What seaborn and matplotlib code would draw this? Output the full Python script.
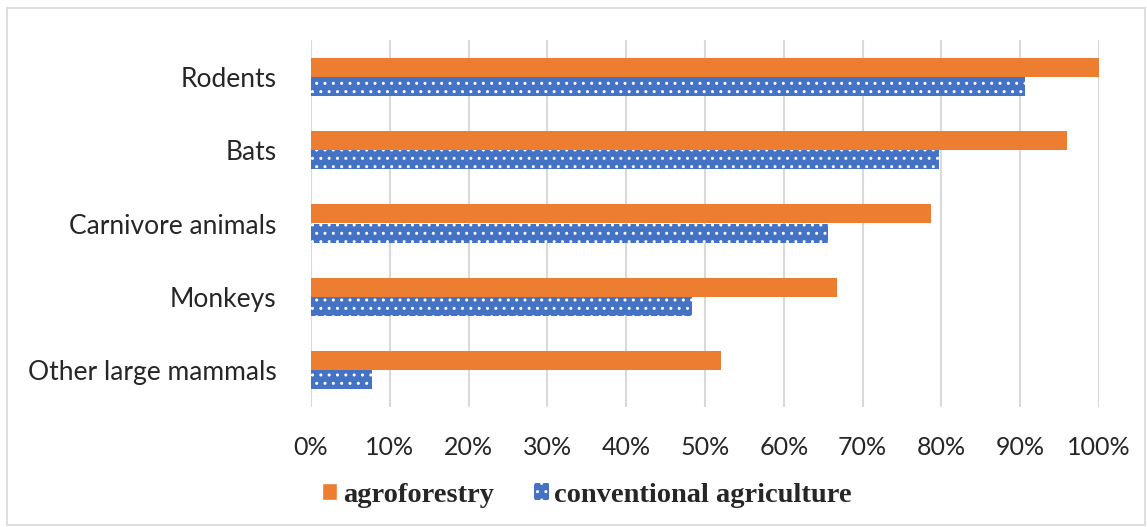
import pandas as pd
import matplotlib
matplotlib.use("Agg")
import matplotlib.pyplot as plt
import seaborn as sns
from matplotlib.patches import Patch, Rectangle
from matplotlib.ticker import FuncFormatter

categories = ["Rodents", "Bats", "Carnivore animals", "Monkeys", "Other large mammals"]
agroforestry = [100, 96, 78.7, 66.7, 52]
conventional = [90.6, 79.7, 65.6, 48.4, 7.7]
series = ["agroforestry", "conventional agriculture"]

df = pd.DataFrame({
    "category": categories * 2,
    "value": agroforestry + conventional,
    "system": [series[0]] * 5 + [series[1]] * 5,
})

orange = "#ED7D31"
blue = "#4472C4"

sns.set_style("white")
plt.rcParams["font.family"] = ["Lato", "DejaVu Sans"]
plt.rcParams["hatch.color"] = "white"
plt.rcParams["hatch.linewidth"] = 1.0

fig = plt.figure(figsize=(11.47, 5.27), dpi=100)
ax = fig.add_axes([311 / 1147, 1 - 407 / 527, (1099 - 311) / 1147, 367 / 527])

sns.barplot(data=df, y="category", x="value", hue="system", order=categories,
            hue_order=series, palette=[orange, blue], orient="h", width=0.52,
            gap=0, linewidth=0, saturation=1, legend=False, ax=ax)

for bar in ax.containers[1]:
    bar.set_hatch("..")
    bar.set_edgecolor("white")
    bar.set_linewidth(0)

ax.set_xlim(0, 100)
ax.set_xticks(range(0, 101, 10))
ax.xaxis.set_major_formatter(FuncFormatter(lambda v, p: f"{int(v)}%"))
ax.grid(axis="x", color="#D9D9D9", linewidth=1.5)
ax.set_axisbelow(True)
for s in ax.spines.values():
    s.set_visible(False)
ax.set_xlabel("")
ax.set_ylabel("")
ax.tick_params(axis="y", length=0, pad=25, labelsize=19)
ax.tick_params(axis="x", length=0, pad=21, labelsize=18)

handles = [Patch(facecolor=orange, label=series[0]),
           Patch(facecolor=blue, hatch="..", edgecolor="white", linewidth=0, label=series[1])]
fig.legend(handles=handles, loc="center", bbox_to_anchor=(587 / 1147, 1 - 495 / 527),
           ncol=2, frameon=False, handlelength=0.53, handleheight=0.53, handletextpad=0.2,
           columnspacing=1.4,
           prop={"family": "Liberation Serif", "weight": "bold", "size": 20.5})

fig.patches.append(Rectangle((7 / 1147, 2 / 527), 1138 / 1147, 517 / 527,
                             transform=fig.transFigure, fill=False,
                             edgecolor="#D9D9D9", linewidth=1.2))

fig.savefig("out.png", dpi=100)
